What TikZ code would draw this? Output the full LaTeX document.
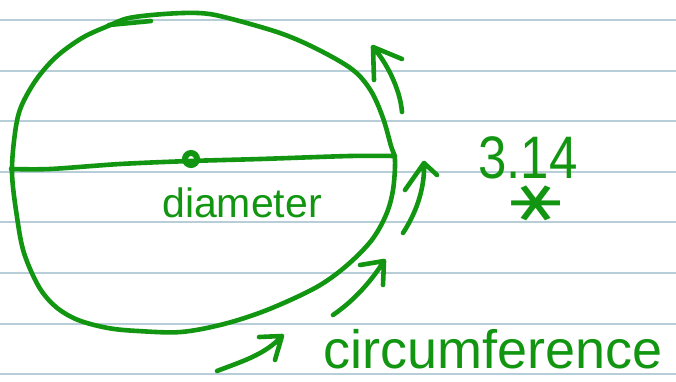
\documentclass[tikz,border=0pt]{standalone}
\usepackage{fontspec}
\setmainfont{Liberation Sans}
\newfontfamily\symfont{DejaVu Sans}
\definecolor{ink}{RGB}{18,150,18}
\definecolor{rulecol}{RGB}{183,206,217}
\begin{document}
\begin{tikzpicture}[x=1pt,y=-1pt,
  pen/.style={draw=ink,line width=4.6pt,line cap=round,line join=round},
  ruling/.style={draw=rulecol,line width=2pt},
  hand/.style={text=ink,inner sep=0pt}]
\fill[white] (0,0) rectangle (676,381);
\useasboundingbox (0,0) rectangle (676,381);
% notebook rulings
\foreach \k in {0,...,7}
  \draw[ruling] (0,{20.2+50.57*\k}) -- (676,{20.2+50.57*\k});
% circle
\draw[pen] plot[smooth cycle, tension=0.55] coordinates {
  (198,13) (224,17) (280,33) (319,50) (353,70) (371,91) (383,118) (391,146)
  (395,160) (393,190) (386,215) (371,241) (345,267) (315,288) (267,310)
  (224,324) (181,332) (138,331) (108,328) (78,320) (56,307) (39,287)
  (24,253) (17,217) (12,173) (15,133) (21,107) (36,80) (56,57) (82,38)
  (108,26) (129,18) (164,14)};
\draw[pen] (109,25) -- (151,21);
% diameter
\coordinate (dl) at (11,169);
\coordinate (dr) at (395,156);
\draw[pen] plot[smooth] coordinates {(dl) (50,169) (120,164) (190,161) (260,159) (350,156) (dr)};
\node[circle, draw=ink, line width=6pt, minimum size=12pt, inner sep=0pt] (ctr) at (191,159) {};
% arrows
\coordinate (a1s) at (402,112); \coordinate (a1t) at (373,47);
\coordinate (a1l) at (374,80);  \coordinate (a1r) at (402,59);
\draw[pen] (a1s) .. controls (400,88) and (386,62) .. (a1t) -- (a1l) (a1t) -- (a1r);
\coordinate (a2s) at (403,233); \coordinate (a2t) at (424,163);
\coordinate (a2l) at (405,190); \coordinate (a2r) at (437,175);
\draw[pen] (a2s) .. controls (418,210) and (425,185) .. (a2t) -- (a2l) (a2t) -- (a2r);
\coordinate (a3s) at (333,315); \coordinate (a3t) at (384,261);
\coordinate (a3l) at (360,265); \coordinate (a3r) at (383,285);
\draw[pen] (a3s) .. controls (355,300) and (372,280) .. (a3t) -- (a3l) (a3t) -- (a3r);
\coordinate (a4s) at (217,371); \coordinate (a4t) at (282,336);
\coordinate (a4l) at (259,337); \coordinate (a4r) at (275,360);
\draw[pen] (a4s) .. controls (240,362) and (265,355) .. (a4t) -- (a4l) (a4t) -- (a4r);
% labels
\node[hand, font=\fontsize{41}{41}\selectfont, anchor=base] (dlabel) at (242,217) {diameter};
\node[hand, font=\fontsize{54}{54}\selectfont, anchor=base west] (clabel) at (323,368) {circumference};
\node[hand, font=\fontsize{60}{60}\selectfont, xscale=0.85, anchor=base west] (pival) at (478,178) {3.14};
\node[hand, font=\symfont\fontsize{60}{60}\selectfont, xscale=1.3, rotate=90, anchor=center] (times) at (536,203) {∗};
\end{tikzpicture}
\end{document}
